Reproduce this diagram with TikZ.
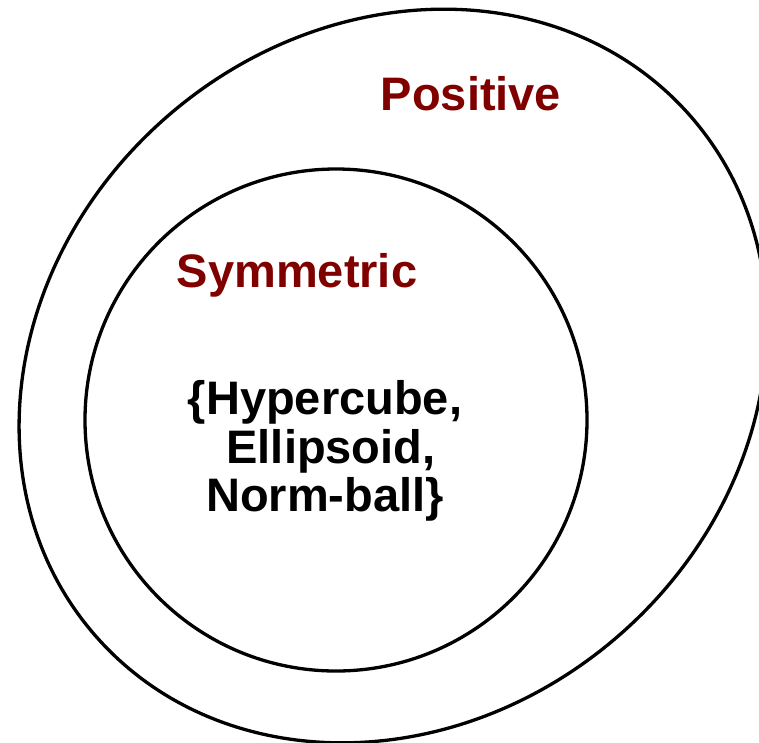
\documentclass[tikz,border=0pt]{standalone}
\usepackage{fontspec}
\setmainfont{Liberation Sans}
\definecolor{setred}{RGB}{128,0,0}
\tikzset{
  setline/.style={line width=3.3pt, draw=black},
  setlabel/.style={font=\bfseries\fontsize{47}{48.5}\selectfont, text=setred, inner sep=0pt},
  members/.style={font=\bfseries\fontsize{47}{48.5}\selectfont, align=center, inner sep=0pt}
}
\begin{document}
\begin{tikzpicture}[x=1pt, y=-1pt]
			\useasboundingbox (0,0) rectangle (759,742);
			\coordinate (outer) at (393,376);
			\coordinate (inner) at (336,420);
			\draw[setline, rotate around={41:(outer)}] (outer) ellipse [x radius=395, y radius=344];
			\draw[setline] (inner) circle [radius=251];
			\node[setlabel, anchor=base] (pos) at (471,110) {Positive};
			\node[setlabel, anchor=base] (sym) at (297,287) {Symmetric};
			\node[members] (sets) at (325,451) {\{Hypercube,\\\hspace*{12pt}Ellipsoid,\\Norm-ball\}};
		\end{tikzpicture}
\end{document}
